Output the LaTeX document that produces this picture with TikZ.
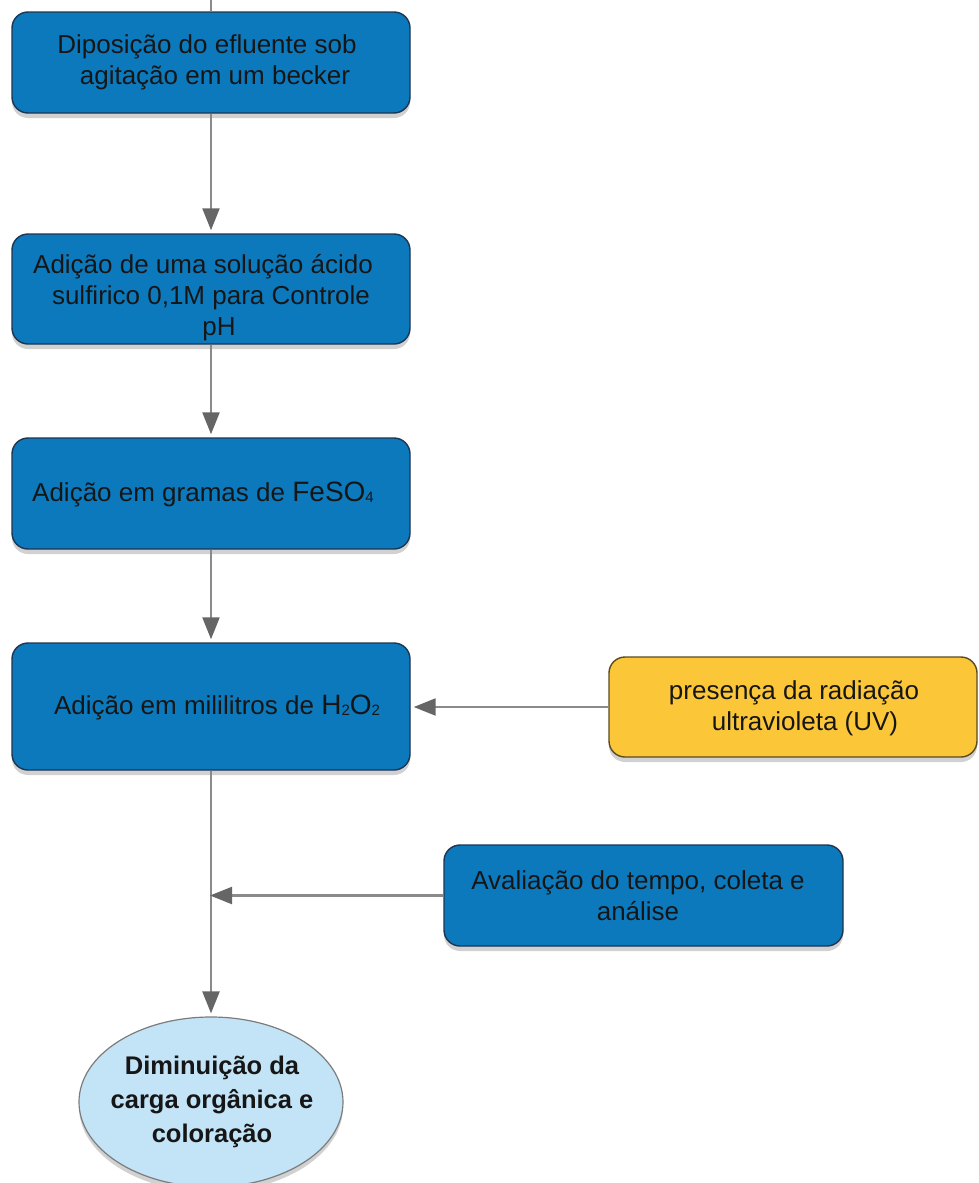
\documentclass[tikz,border=0pt]{standalone}
\usepackage{fontspec}
\setmainfont{Liberation Sans}
\usetikzlibrary{arrows.meta,shapes.geometric,shadows}
\definecolor{boxblue}{HTML}{0C79BD}
\definecolor{boxedge}{HTML}{1E3550}
\definecolor{boxyellow}{HTML}{FBC638}
\definecolor{yedge}{HTML}{5A4A20}
\definecolor{elfill}{HTML}{C3E3F6}
\definecolor{eledge}{HTML}{7C7C7C}
\definecolor{linegray}{HTML}{8A8A8A}
\definecolor{tipgray}{HTML}{666666}
\definecolor{txt}{HTML}{161616}
\newcommand{\smallsub}[1]{\raisebox{-1pt}{\fontsize{15}{15}\selectfont #1}}
\begin{document}
\begin{tikzpicture}[x=1pt,y=-1pt,
  shad/.style={drop shadow={shadow xshift=0pt,shadow yshift=-5pt,opacity=0.18,fill=black}},
  stepbox/.style={draw=boxedge,line width=1.4pt,fill=boxblue,rounded corners=16pt,shad,inner sep=0pt},
  yelbox/.style={draw=yedge,line width=1.4pt,fill=boxyellow,rounded corners=16pt,shad,inner sep=0pt},
  endell/.style={ellipse,draw=eledge,line width=1.2pt,fill=elfill,shad,inner sep=0pt},
  lbl/.style={text=txt,align=center,font=\fontsize{26}{31}\selectfont,inner sep=0pt},
  blbl/.style={text=txt,align=center,font=\fontsize{25.5}{34}\selectfont\bfseries,inner sep=0pt},
  arr/.style={draw=linegray,line width=2.2pt,-{Triangle[length=22pt,width=17pt,color=tipgray]},shorten >=3pt},
  plain/.style={draw=linegray,line width=2.2pt}]
\useasboundingbox (0,0) rectangle (979,1183);

% nodes
\node[stepbox,minimum width=398pt,minimum height=101pt] (b1) at (211,62.5) {};
\node[lbl] (t1) at (207,62.5) {Diposição do efluente sob\\\hspace*{16pt}agitação em um becker};

\node[stepbox,minimum width=398pt,minimum height=110pt] (b2) at (211,289) {};
\node[lbl] (t2) at (203,298) {Adição de uma solução ácido\\\hspace*{16pt}sulfirico 0,1M para Controle\\\hspace*{32pt}pH};

\node[stepbox,minimum width=398pt,minimum height=111pt] (b3) at (211,493.5) {};
\node[lbl] (t3) at (203,494) {Adição em gramas de {\fontsize{28}{31}\selectfont FeSO}\smallsub{4}};

\node[stepbox,minimum width=398pt,minimum height=127pt] (b4) at (211,706.5) {};
\node[lbl] (t4) at (217,707) {Adição em mililitros de {\fontsize{28}{31}\selectfont H}\smallsub{2}{\fontsize{28}{31}\selectfont O}\smallsub{2}};

\node[yelbox,minimum width=368pt,minimum height=100pt] (uv) at (793,707) {};
\node[lbl] (tuv) at (794,708) {presença da radiação\\\hspace*{22pt}ultravioleta (UV)};

\node[stepbox,minimum width=399pt,minimum height=101pt] (av) at (643.5,895.5) {};
\node[lbl] (tav) at (638,896) {Avaliação do tempo, coleta e\\análise};

\node[endell,minimum width=264pt,minimum height=170pt] (el) at (211,1102) {};
\node[blbl] (tel) at (212,1102) {Diminuição da\\carga orgânica e\\coloração};

% connectors
\coordinate (top) at (211,0);
\draw[plain] (top) -- (b1.north);
\draw[arr] (b1.south) -- (b2.north);
\draw[arr] (b2.south) -- (b3.north);
\draw[arr] (b3.south) -- (b4.north);
\draw[arr] (b4.south) -- (el.north);
\draw[arr] (uv.west) -- (uv.west -| b4.east);
\draw[arr,shorten >=-1pt] (av.west) -- (av.west -| b4.south);
\end{tikzpicture}
\end{document}
